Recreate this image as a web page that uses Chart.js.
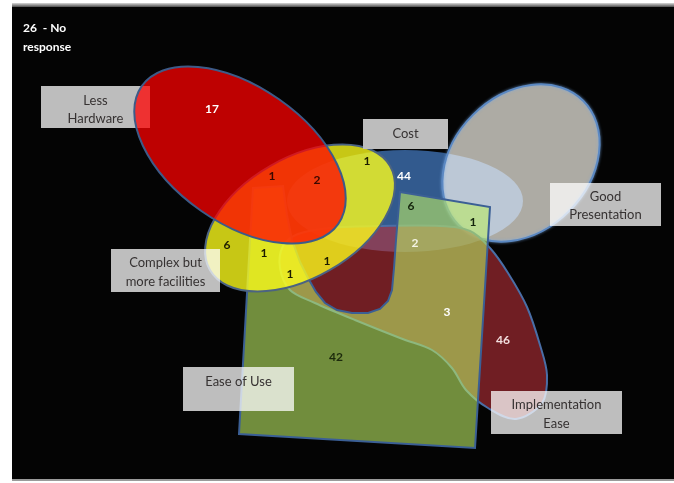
<!DOCTYPE html>
<html>
<head>
<meta charset="utf-8">
<script src="https://cdn.jsdelivr.net/npm/chart.js@4.4.1/dist/chart.umd.min.js"></script>
<style>
  html, body { margin: 0; padding: 0; background: #ffffff; }
  #wrap { width: 674px; height: 483px; position: relative; }
</style>
</head>
<body>
<div id="wrap"><canvas id="venn"></canvas></div>
<script>
// ---- Survey results: preferred qualities, counted per overlap of answers ----
const setLabels = [
  ['Less', 'Hardware'],
  ['Cost'],
  ['Good', 'Presentation'],
  ['Complex but', 'more facilities'],
  ['Ease of Use'],
  ['Implementation', 'Ease']
];
const noResponseCount = 26;
const noResponseText = ['26  - No', 'response'];

// respondents in each overlap region
const regionCounts = [17, 1, 2, 1, 44, 6, 1, 6, 1, 1, 1, 2, 3, 46, 42];
// sets each region belongs to (indices into setLabels)
const regionSets = [
  [0], [0, 3, 4], [0, 3], [3, 1], [1], [1, 4], [1, 2, 4], [3], [3, 4],
  [3, 4, 5], [3, 5], [1, 4, 5], [4, 5], [5], [4]
];

// ---- layout (diagram units: 674 x 483, y downwards) ----
const regionAnchors = [
  [212, 109], [272, 176], [317, 180], [367, 161], [404, 176], [411, 206],
  [473, 222], [227, 245], [264, 253], [290, 274], [327, 261], [415, 243],
  [447, 312], [503, 340], [336, 357]
];
const regionInk = [
  '#ffffff', '#3a0800', '#3a0800', '#1c1c00', '#ffffff', '#14240c',
  '#14240c', '#1c1c00', '#1c1c00', '#1c1c00', '#1c1c00', '#f4f4e4',
  '#ffffff', '#f3dede', '#1c2a0c'
];

const panelRect = [12, 6, 674, 479];

// set outlines, painted in this order
const setShapes = [
  { set: 1, kind: 'ellipse', c: [405, 201], r: [118, 51], rot: 0,
    fill: 'rgb(50,90,142)', mode: 'source-over', stroke: null },
  { set: 2, kind: 'ellipse', c: [521, 163], r: [88, 68], rot: -45,
    fill: 'rgb(172,170,163)', mode: 'screen', stroke: '#5b88c2', glow: true },
  { set: 5, kind: 'smooth', fill: 'rgba(185,48,56,0.6)', mode: 'source-over', stroke: '#4a6ea6',
    pts: [[298,234],[330,228],[380,226],[440,226],[470,231],[490,248],[508,273],
          [527,307],[540,345],[547,375],[542,403],[516,419],[488,408],[466,390],
          [452,368],[432,350],[400,338],[355,320],[315,303],[290,290],[280,268],[283,246]] },
  { set: 4, kind: 'poly', fill: 'rgba(187,233,100,0.6)', mode: 'source-over', stroke: '#3b5f95',
    pts: [[253,188],[283,186],[287,215],[292,240],[300,262],[308,278],[316,292],
          [325,303],[337,310],[352,313],[368,313],[380,309],[388,301],[392,290],
          [394,268],[396,240],[400,192],[490,207],[475,448],[239,434]] },
  { set: 3, kind: 'ellipse', c: [300, 218], r: [104, 60], rot: -30,
    fill: 'rgba(255,255,27,0.78)', mode: 'source-over', stroke: '#4b6382' },
  { box: 0 },
  { set: 0, kind: 'ellipse', c: [240, 155], r: [120, 68], rot: 35,
    fill: 'rgba(255,0,0,0.74)', mode: 'source-over', stroke: '#3d5b88' },
  { box: 1 }, { box: 2 }, { box: 3 }, { box: 4 }, { box: 5 }
];

// caption boxes: [left, top, right, bottom] and text line centres
const boxRects = [
  [41, 86, 150, 128], [363, 119, 448, 149], [550, 183, 661, 226],
  [111, 249, 220, 292], [183, 367, 294, 411], [491, 391, 622, 434]
];
const boxLineY = [[101, 119], [134], [197, 215], [263, 282], [382], [405, 424]];
const boxBlend = ['source-over', 'source-over', 'screen', 'screen', 'screen', 'screen'];

// ---- drawing helpers ----
function toPx(chart, p) {
  return [chart.scales.x.getPixelForValue(p[0]), chart.scales.y.getPixelForValue(p[1])];
}
function unitX(chart) { return Math.abs(chart.scales.x.getPixelForValue(1) - chart.scales.x.getPixelForValue(0)); }
function unitY(chart) { return Math.abs(chart.scales.y.getPixelForValue(1) - chart.scales.y.getPixelForValue(0)); }

function smoothClosed(ctx, P) {
  const n = P.length;
  ctx.moveTo(P[0][0], P[0][1]);
  for (let i = 0; i < n; i++) {
    const p0 = P[(i - 1 + n) % n], p1 = P[i], p2 = P[(i + 1) % n], p3 = P[(i + 2) % n];
    ctx.bezierCurveTo(
      p1[0] + (p2[0] - p0[0]) / 6, p1[1] + (p2[1] - p0[1]) / 6,
      p2[0] - (p3[0] - p1[0]) / 6, p2[1] - (p3[1] - p1[1]) / 6,
      p2[0], p2[1]);
  }
  ctx.closePath();
}

function tracePath(chart, ctx, s) {
  ctx.beginPath();
  if (s.kind === 'ellipse') {
    const c = toPx(chart, s.c);
    ctx.ellipse(c[0], c[1], s.r[0] * unitX(chart), s.r[1] * unitY(chart), s.rot * Math.PI / 180, 0, Math.PI * 2);
  } else if (s.kind === 'smooth') {
    smoothClosed(ctx, s.pts.map(p => toPx(chart, p)));
  } else {
    s.pts.map(p => toPx(chart, p)).forEach((p, i) => i ? ctx.lineTo(p[0], p[1]) : ctx.moveTo(p[0], p[1]));
    ctx.closePath();
  }
}

function drawBox(chart, ctx, i) {
  const a = toPx(chart, [boxRects[i][0], boxRects[i][1]]);
  const b = toPx(chart, [boxRects[i][2], boxRects[i][3]]);
  ctx.save();
  ctx.globalCompositeOperation = boxBlend[i];
  ctx.fillStyle = '#bdbdbd';
  ctx.fillRect(a[0], a[1], b[0] - a[0], b[1] - a[1]);
  ctx.restore();
  ctx.save();
  ctx.fillStyle = '#363232';
  ctx.font = '13px Lato, "Open Sans", sans-serif';
  ctx.textAlign = 'center';
  ctx.textBaseline = 'middle';
  const cx = (a[0] + b[0]) / 2;
  setLabels[i].forEach((t, k) => {
    const y = toPx(chart, [0, boxLineY[i][k]])[1];
    ctx.fillText(t, cx, y);
  });
  ctx.restore();
}

const vennPlugin = {
  id: 'vennSets',
  beforeDraw(chart) {
    const ctx = chart.ctx;
    ctx.save();
    ctx.fillStyle = '#ffffff';
    ctx.fillRect(0, 0, chart.width, chart.height);
    const a = toPx(chart, [panelRect[0], panelRect[1]]);
    const b = toPx(chart, [panelRect[2], panelRect[3]]);
    const g = ctx.createLinearGradient(0, a[1] - 3, 0, a[1] + 2);
    g.addColorStop(0, '#d8d8d8');
    g.addColorStop(1, '#2a2a2a');
    ctx.fillStyle = g;
    ctx.fillRect(a[0], a[1] - 3, b[0] - a[0], 5);
    ctx.fillStyle = '#040404';
    ctx.fillRect(a[0], a[1] + 1, b[0] - a[0], b[1] - a[1] - 1);
    ctx.fillStyle = '#9a9a9a';
    ctx.fillRect(a[0], b[1], b[0] - a[0], 2);
    ctx.restore();
  },
  beforeDatasetsDraw(chart) {
    const ctx = chart.ctx;
    setShapes.forEach(s => {
      if (s.box !== undefined) { drawBox(chart, ctx, s.box); return; }
      ctx.save();
      ctx.globalCompositeOperation = s.mode;
      tracePath(chart, ctx, s);
      ctx.fillStyle = s.fill;
      ctx.fill();
      ctx.restore();
      if (s.stroke) {
        ctx.save();
        tracePath(chart, ctx, s);
        if (s.glow) { ctx.shadowColor = 'rgba(120,170,230,0.8)'; ctx.shadowBlur = 3; }
        ctx.strokeStyle = s.stroke;
        ctx.lineWidth = 2;
        ctx.stroke();
        ctx.restore();
      }
    });
  },
  afterDatasetsDraw(chart) {
    const ctx = chart.ctx;
    const meta = chart.getDatasetMeta(0);
    ctx.save();
    ctx.font = 'bold 12px Lato, "Open Sans", sans-serif';
    ctx.textAlign = 'center';
    ctx.textBaseline = 'middle';
    meta.data.forEach((pt, i) => {
      ctx.fillStyle = regionInk[i];
      ctx.fillText(String(regionCounts[i]), pt.x, pt.y);
    });
    // respondents who gave no answer
    ctx.fillStyle = '#ffffff';
    ctx.textAlign = 'left';
    const p1 = toPx(chart, [23, 28]);
    const p2 = toPx(chart, [23, 47]);
    ctx.fillText(noResponseText[0].replace('26', String(noResponseCount)), p1[0], p1[1]);
    ctx.fillText(noResponseText[1], p2[0], p2[1]);
    ctx.restore();
  }
};

new Chart(document.getElementById('venn'), {
  type: 'scatter',
  data: {
    datasets: [{
      label: 'Respondents',
      data: regionAnchors.map((p, i) => ({ x: p[0], y: p[1], n: regionCounts[i], sets: regionSets[i] })),
      pointRadius: 0,
      pointHoverRadius: 0
    }]
  },
  options: {
    responsive: true,
    maintainAspectRatio: false,
    animation: false,
    events: [],
    layout: { padding: 0 },
    scales: {
      x: { type: 'linear', min: 0, max: 674, display: false },
      y: { type: 'linear', min: 0, max: 483, reverse: true, display: false }
    },
    plugins: { legend: { display: false }, tooltip: { enabled: false }, title: { display: false } }
  },
  plugins: [vennPlugin]
});
</script>
</body>
</html>
